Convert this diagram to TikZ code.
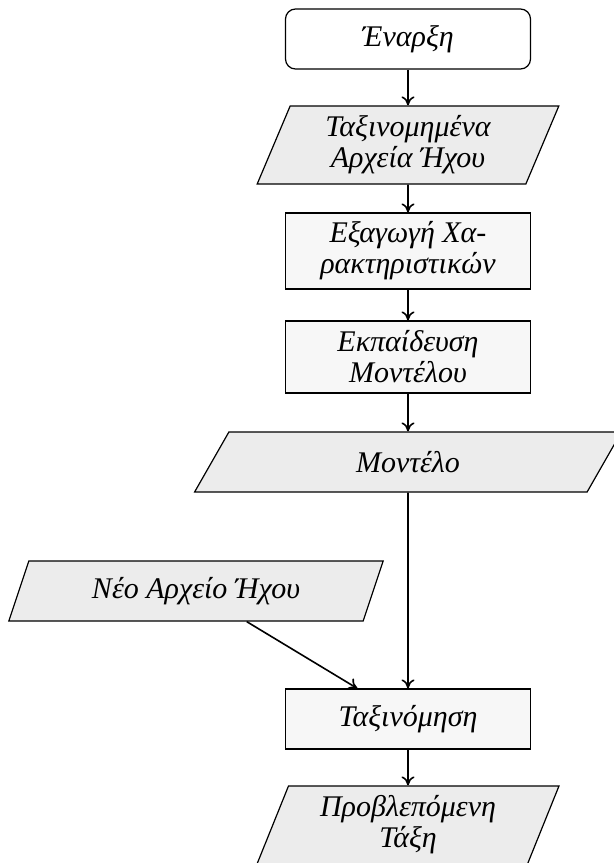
\documentclass[tikz,border=0pt]{standalone}
\usepackage{fontspec}
\setmainfont{Liberation Serif}
\usetikzlibrary{shapes.geometric,arrows.meta}
\begin{document}
\begin{tikzpicture}[x=0.5pt,y=-0.5pt,
  font=\fontsize{15}{15.5}\selectfont\itshape,
  startbox/.style={draw, line width=0.6pt, rounded corners=5pt, fill=white, minimum width=122.5pt, align=center},
  procbox/.style={draw, line width=0.6pt, fill=gray!6, minimum width=122.5pt, align=center, inner sep=2pt},
  iobox/.style={trapezium, trapezium left angle=70, trapezium right angle=110, trapezium stretches=true,
    draw, line width=0.6pt, fill=gray!15, align=center, inner sep=2pt},
  arr/.style={draw, line width=0.8pt, -{To[length=4.5pt,width=6.5pt]}}]
\useasboundingbox (0,0) rectangle (614,863);
\node[startbox, minimum height=30pt] (start) at (408,39) {Έναρξη};
\node[iobox, minimum width=151pt, minimum height=39pt] (files) at (408,145) {Ταξινομημένα\\Αρχεία Ήχου};
\node[procbox, minimum height=38pt] (feat) at (408,251) {Εξαγωγή Χα-\\ρακτηριστικών};
\node[procbox, minimum height=36pt] (train) at (408,357) {Εκπαίδευση\\Μοντέλου};
\node[iobox, minimum width=213.5pt, minimum height=30pt] (model) at (408,462) {Μοντέλο};
\node[iobox, minimum width=187.5pt, minimum height=30pt] (new) at (196,591) {Νέο Αρχείο Ήχου};
\node[procbox, minimum height=30pt] (clf) at (408,719) {Ταξινόμηση};
\node[iobox, minimum width=151pt, minimum height=39pt] (pred) at (408,825) {Προβλεπόμενη\\Τάξη};
\draw[arr] (start) -- (files);
\draw[arr] (files) -- (feat);
\draw[arr] (feat) -- (train);
\draw[arr] (train) -- (model);
\draw[arr] (model) -- (clf);
\draw[arr] (new) -- (clf);
\draw[arr] (clf) -- (pred);
\end{tikzpicture}
\end{document}
